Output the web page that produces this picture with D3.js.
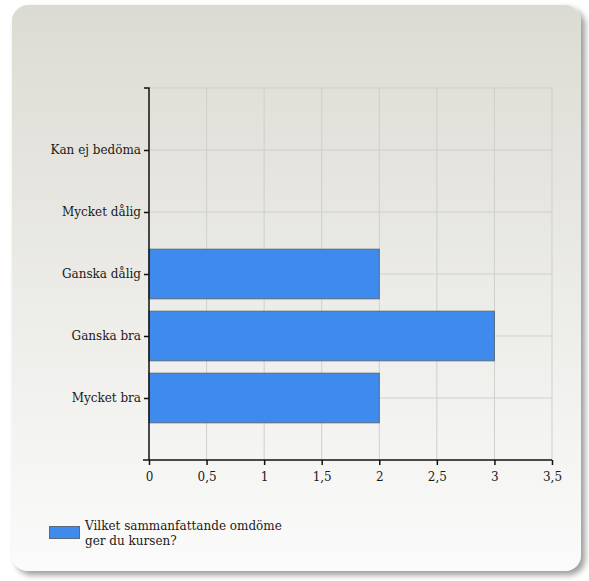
<!DOCTYPE html>
<html><head><meta charset="utf-8">
<script src="https://cdn.jsdelivr.net/npm/d3@7"></script>
<style>
html,body{margin:0;padding:0;background:#fff;}
svg{display:block;}
text{font-family:"DejaVu Serif",serif;fill:#1a1a1a;}
</style></head>
<body>
<svg id="c" width="589" height="581"></svg>
<script>
const categories = ["Kan ej bedöma","Mycket dålig","Ganska dålig","Ganska bra","Mycket bra"];
const values = [0, 0, 2, 3, 2];
const xTicks = [0, 0.5, 1, 1.5, 2, 2.5, 3, 3.5];
const seriesName = ["Vilket sammanfattande omdöme", "ger du kursen?"];

(function(){
const FONT = '"DejaVu Serif", serif';
const svg = d3.select("#c");
const defs = svg.append("defs");
const g = defs.append("linearGradient").attr("id","bg").attr("x1",0).attr("y1",0).attr("x2",0).attr("y2",1);
g.append("stop").attr("offset","0%").attr("stop-color","#dcdbd3");
g.append("stop").attr("offset","100%").attr("stop-color","#fbfbfb");
const f = defs.append("filter").attr("id","sh").attr("x","-5%").attr("y","-5%").attr("width","115%").attr("height","115%");
f.append("feGaussianBlur").attr("in","SourceAlpha").attr("stdDeviation",3);
f.append("feOffset").attr("dx",4).attr("dy",4).attr("result","b");
f.append("feComponentTransfer").append("feFuncA").attr("type","linear").attr("slope",0.4);
const fm = f.append("feMerge");
fm.append("feMergeNode");
fm.append("feMergeNode").attr("in","SourceGraphic");

svg.append("rect").attr("x",12).attr("y",5).attr("width",569).attr("height",566)
  .attr("rx",16).attr("ry",16).attr("fill","url(#bg)").attr("filter","url(#sh)");

const pl = 149, pr = 552, pt = 88, pb = 460;
const x = d3.scaleLinear().domain([0, 3.5]).range([pl, pr]);
const y = d3.scalePoint().domain(categories).range([pt, pb]).padding(1);
const bandH = y.step() * 0.8;

// grid
const grid = svg.append("g");
grid.selectAll("line.v").data(xTicks.slice(1)).join("line")
  .attr("x1", d => x(d)).attr("x2", d => x(d)).attr("y1", pt).attr("y2", pb)
  .attr("stroke", "#cfcfcb").attr("stroke-width", 1);
grid.selectAll("line.h").data(categories).join("line")
  .attr("x1", pl).attr("x2", pr).attr("y1", d => y(d)).attr("y2", d => y(d))
  .attr("stroke", "#cfcfcb").attr("stroke-width", 1);
grid.append("line").attr("x1", pl).attr("x2", pr).attr("y1", pt).attr("y2", pt)
  .attr("stroke", "#cfcfcb");

// bars
svg.append("g").selectAll("rect").data(categories.map((c,i)=>({c, v: values[i]})).filter(d=>d.v>0)).join("rect")
  .attr("x", x(0)).attr("y", d => y(d.c) - bandH/2)
  .attr("width", d => x(d.v) - x(0)).attr("height", bandH)
  .attr("fill", "#3f8bed").attr("stroke", "#5a6a7c").attr("stroke-width", 1);

// axes
const xa = svg.append("g").attr("transform", `translate(0,${pb})`)
  .call(d3.axisBottom(x).tickValues(xTicks).tickSize(5).tickSizeOuter(0)
    .tickFormat(d => String(d).replace(".", ",")));
const ya = svg.append("g").attr("transform", `translate(${pl},0)`)
  .call(d3.axisLeft(y).tickSize(5).tickSizeOuter(0));
[xa, ya].forEach(a => {
  a.attr("font-family", FONT).attr("font-size", 12);
  a.select(".domain").attr("stroke", "#111").attr("stroke-width", 1.5);
  a.selectAll(".tick line").attr("stroke", "#111").attr("stroke-width", 1.5);
  a.selectAll("text").attr("fill", "#1a1a1a").style("font-family", FONT).style("font-size", "12px");
});
ya.select(".domain").attr("d", `M-5,${pt}H0V${pb}`);
xa.select(".domain").attr("d", `M${pl - 6},0H${pr}`);
xa.selectAll("text").attr("dy", "1.05em");
ya.selectAll("text").attr("x", -8);

// legend
svg.append("rect").attr("x", 49.5).attr("y", 526.5).attr("width", 30).attr("height", 12)
  .attr("fill", "#3f8bed").attr("stroke", "#5a6a7c");
svg.append("g").selectAll("text").data(seriesName).join("text")
  .attr("x", 85).attr("y", (d, i) => 530 + i * 15)
  .style("font-family", FONT).style("font-size", "12px").text(d => d);
})();
</script>
</body></html>
